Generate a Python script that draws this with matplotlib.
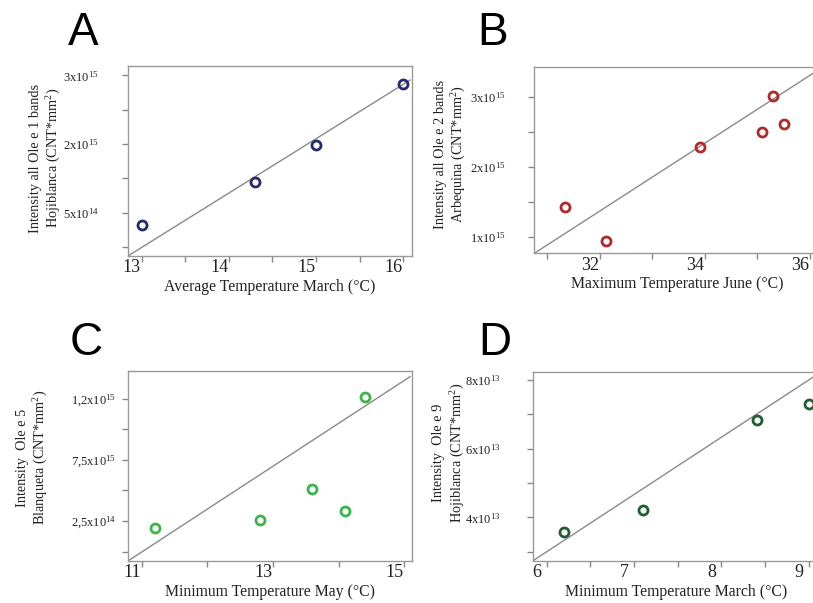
import matplotlib
matplotlib.use("Agg")
import matplotlib.pyplot as plt
import matplotlib.transforms as mtransforms
from matplotlib.ticker import FixedLocator

plt.rcParams['font.family'] = ['Liberation Serif', 'DejaVu Serif']
plt.rcParams['mathtext.fontset'] = 'custom'
plt.rcParams['mathtext.rm'] = 'Liberation Serif'
plt.rcParams['mathtext.it'] = 'Liberation Serif:italic'

# ---- panel A: Ole e 1, Hojiblanca (units of 1e15, labels as printed) ----
tempA = [13.0, 14.30, 15.0, 16.0]
intA = [0.82, 1.446, 1.99, 2.87]
fitA_x = [12.843, 16.077]
fitA_y = [0.37, 2.93]

# ---- panel B: Ole e 2, Arbequina (units of 1e15) ----
tempB = [31.33, 32.12, 33.90, 35.09, 35.30, 35.50]
intB = [1.43, 0.94, 2.28, 2.50, 3.02, 2.62]
fitB_x = [30.75, 36.06]
fitB_y = [0.762, 3.34]

# ---- panel C: Ole e 5, Blanqueta (units of 1e14) ----
tempC = [11.2, 12.81, 13.6, 14.1, 14.4]
intC = [1.95, 2.56, 5.14, 3.29, 12.6]
fitC_x = [10.79, 15.09]
fitC_y = [-0.77, 14.3]

# ---- panel D: Ole e 9, Hojiblanca (units of 1e13) ----
tempD = [6.2, 7.1, 8.41, 9.0]
intD = [3.57, 4.22, 6.84, 7.30]
fitD_x = [5.84, 9.05]
fitD_y = [2.73, 8.08]

panels = [
    dict(letter="A", x=tempA, y=intA, fx=fitA_x, fy=fitA_y, color="#262a6e",
         xlim=(12.843, 16.10), ylim=(0.37, 3.135),
         xmaj=[13, 14, 15, 16], xmin=[13.5, 14.5, 15.5],
         ymaj=[1, 2, 3], ymin=[0.5, 1.5, 2.5],
         ylabs=[r"5x10$^{14}$", r"2x10$^{15}$", r"3x10$^{15}$"],
         xlabel="Average Temperature March (\u00b0C)",
         ylabel="Intensity all Ole e 1 bands\nHojiblanca (CNT*mm$^2$)",
         pos=[0.1574, 0.5755, 0.3494, 0.3150],
         ypad=17.3, ylab_xy=(-0.288, 0.516), letter_xy=(68, 45)),
    dict(letter="B", x=tempB, y=intB, fx=fitB_x, fy=fitB_y, color="#b02a2a",
         xlim=(30.75, 36.19), ylim=(0.762, 3.434),
         xmaj=[32, 34, 36], xmin=[31, 33, 35],
         ymaj=[1, 2, 3], ymin=[1.5, 2.5],
         ylabs=[r"1x10$^{15}$", r"2x10$^{15}$", r"3x10$^{15}$"],
         xlabel="Maximum Temperature June (\u00b0C)",
         ylabel="Intensity all Ole e 2 bands\nArbequina (CNT*mm$^2$)",
         pos=[0.6572, 0.5799, 0.3514, 0.3095],
         ypad=16.5, ylab_xy=(-0.292, 0.532), letter_xy=(477, 45)),
    dict(letter="C", x=tempC, y=intC, fx=fitC_x, fy=fitC_y, color="#3cb44b",
         xlim=(10.79, 15.12), ylim=(-0.77, 14.76),
         xmaj=[11, 13, 15], xmin=[12, 14],
         ymaj=[2.5, 7.5, 12.5], ymin=[0, 5, 10],
         ylabs=[r"2,5x10$^{14}$", r"7,5x10$^{15}$", r"1,2x10$^{15}$"],
         xlabel="Minimum Temperature May (\u00b0C)",
         ylabel="Intensity  Ole e 5\nBlanqueta (CNT*mm$^2$)",
         pos=[0.1574, 0.0697, 0.3494, 0.3150],
         ypad=4.3, ylab_xy=(-0.335, 0.545), letter_xy=(70, 355)),
    dict(letter="D", x=tempD, y=intD, fx=fitD_x, fy=fitD_y, color="#1e5e30",
         xlim=(5.84, 9.13), ylim=(2.73, 8.24),
         xmaj=[6, 7, 8, 9], xmin=[6.5, 7.5, 8.5],
         ymaj=[4, 6, 8], ymin=[3, 5, 7],
         ylabs=[r"4x10$^{13}$", r"6x10$^{13}$", r"8x10$^{13}$"],
         xlabel="Minimum Temperature March (\u00b0C)",
         ylabel="Intensity  Ole e 9\nHojiblanca (CNT*mm$^2$)",
         pos=[0.6552, 0.0697, 0.3534, 0.3139],
         ypad=19.2, ylab_xy=(-0.29, 0.57), letter_xy=(478, 355)),
]

W, H = 813, 603
fig = plt.figure(figsize=(8.13, 6.03), dpi=100)
shift = mtransforms.ScaledTranslation(-7 / 72, 0, fig.dpi_scale_trans)

for p in panels:
    ax = fig.add_axes(p["pos"])
    ax.plot(p["fx"], p["fy"], color="#8a8a8a", lw=1.0, zorder=1)
    ax.plot(p["x"], p["y"], 'o', mfc='none', mec=p["color"], ms=6.5, mew=2.0,
            zorder=3, clip_on=False)
    ax.set_xlim(*p["xlim"])
    ax.set_ylim(*p["ylim"])
    ax.xaxis.set_major_locator(FixedLocator(p["xmaj"]))
    ax.xaxis.set_minor_locator(FixedLocator(p["xmin"]))
    ax.yaxis.set_major_locator(FixedLocator(p["ymaj"]))
    ax.yaxis.set_minor_locator(FixedLocator(p["ymin"]))
    ax.set_xticklabels([str(v) for v in p["xmaj"]])
    ax.set_yticklabels(p["ylabs"])
    ax.tick_params(which='both', direction='out', length=4, width=1,
                   color='#888888')
    ax.tick_params(axis='x', labelsize=13, pad=-1.5, labelcolor='#222222')
    ax.tick_params(axis='y', labelsize=9, pad=p["ypad"], labelcolor='#222222')
    for lab in ax.get_xticklabels():
        lab.set_transform(lab.get_transform() + shift)
    for s in ax.spines.values():
        s.set_color('#999999')
        s.set_linewidth(1.0)
    ax.set_xlabel(p["xlabel"], fontsize=11.3, labelpad=1.5, color='#222222')
    ax.set_ylabel(p["ylabel"], fontsize=10.3, color='#222222', linespacing=1.25)
    ax.yaxis.label.set_verticalalignment('center')
    ax.yaxis.set_label_coords(*p["ylab_xy"])
    # panel letter
    lx, ly = p["letter_xy"]
    fig.text(lx / W, 1 - ly / H, p["letter"], fontsize=33,
             family='Liberation Sans', ha='left', va='baseline', color='black')

fig.savefig("out.png", dpi=100)
